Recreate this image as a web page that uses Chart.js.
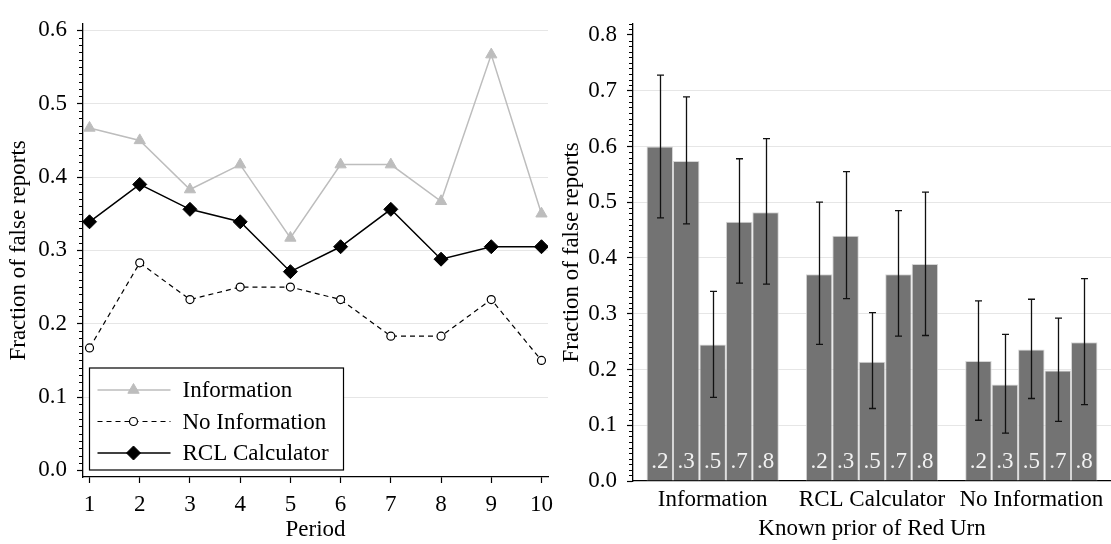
<!DOCTYPE html>
<html>
<head>
<meta charset="utf-8">
<script src="https://cdn.jsdelivr.net/npm/chart.js@4"></script>
<style>
  html, body { margin: 0; padding: 0; background: #fff; }
  #wrap { position: relative; width: 1111px; height: 544px; overflow: hidden; }
  #left { position: absolute; left: 0; top: 0; width: 556px; height: 544px; }
  #right { position: absolute; left: 555px; top: 0; width: 556px; height: 544px; }
</style>
</head>
<body>
<div id="wrap">
  <div id="left"><canvas id="lineChart"></canvas></div>
  <div id="right"><canvas id="barChart"></canvas></div>
</div>
<script>
// left panel: false reports by period
const periods = [1, 2, 3, 4, 5, 6, 7, 8, 9, 10];
const infoRate = [0.467, 0.450, 0.383, 0.417, 0.317, 0.417, 0.417, 0.367, 0.567, 0.350];
const noInfoRate = [0.167, 0.283, 0.233, 0.250, 0.250, 0.233, 0.183, 0.183, 0.233, 0.150];
const rclRate = [0.339, 0.390, 0.356, 0.339, 0.271, 0.305, 0.356, 0.288, 0.305, 0.305];
const leftTicks = [0, 0.1, 0.2, 0.3, 0.4, 0.5, 0.6];

// right panel: false reports by known prior, with confidence intervals
const treatments = ["Information", "RCL Calculator", "No Information"];
const priors = [".2", ".3", ".5", ".7", ".8"];
const mean20 = [0.600, 0.371, 0.215];
const mean30 = [0.574, 0.440, 0.173];
const mean50 = [0.245, 0.214, 0.236];
const mean70 = [0.465, 0.371, 0.198];
const mean80 = [0.482, 0.389, 0.249];
const lo20 = [0.472, 0.245, 0.109], hi20 = [0.728, 0.500, 0.323];
const lo30 = [0.461, 0.327, 0.086], hi30 = [0.689, 0.555, 0.263];
const lo50 = [0.150, 0.130, 0.148], hi50 = [0.340, 0.302, 0.326];
const lo70 = [0.355, 0.260, 0.107], hi70 = [0.578, 0.485, 0.292];
const lo80 = [0.353, 0.261, 0.137], hi80 = [0.614, 0.518, 0.363];
const rightTicks = [0, 0.1, 0.2, 0.3, 0.4, 0.5, 0.6, 0.7, 0.8];

const FONT = "'Liberation Serif', 'Times New Roman', serif";
const font23 = { family: FONT, size: 23 };

// short minor ticks every 0.01 on the y axis
const minorTicks = {
  id: "minorTicks",
  afterDraw(chart) {
    const s = chart.scales.y;
    const ctx = chart.ctx;
    ctx.save();
    ctx.strokeStyle = "#000";
    ctx.lineWidth = 1;
    for (let i = Math.ceil(s.min * 100); i <= Math.floor(s.max * 100); i++) {
      if (i % 10 === 0) continue;
      const y = Math.round(s.getPixelForValue(i / 100)) + 0.5;
      ctx.beginPath();
      ctx.moveTo(s.right - 4, y);
      ctx.lineTo(s.right, y);
      ctx.stroke();
    }
    ctx.restore();
  }
};

function gridColor(ctx) {
  const v = Math.round(ctx.tick.value * 10);
  return (v === 0 || v === 8) ? "rgba(0,0,0,0)" : "#e6e6e6";
}

// ---------- left: line chart ----------
const lineSets = [
  { label: "Information", data: periods.map((p, i) => ({ x: p, y: infoRate[i] })),
    borderColor: "#bdbdbd", backgroundColor: "#bdbdbd", borderWidth: 1.5,
    pointStyle: "triangle", pointRadius: 6.5, pointBorderWidth: 1, pointBorderColor: "#bdbdbd" },
  { label: "No Information", data: periods.map((p, i) => ({ x: p, y: noInfoRate[i] })),
    borderColor: "#000", backgroundColor: "#fff", borderWidth: 1.2, borderDash: [5, 4],
    pointStyle: "circle", pointRadius: 4, pointBorderWidth: 1.2, pointBorderColor: "#000" },
  { label: "RCL Calculator", data: periods.map((p, i) => ({ x: p, y: rclRate[i] })),
    borderColor: "#000", backgroundColor: "#000", borderWidth: 1.5,
    pointStyle: "rectRot", pointRadius: 7, pointBorderWidth: 1, pointBorderColor: "#000" }
];

const lineLegend = {
  id: "lineLegend",
  afterDraw(chart) {
    const ctx = chart.ctx;
    const a = chart.chartArea;
    const left = a.left + 6.5, bottom = a.bottom - 7, w = 254, h = 102;
    ctx.save();
    ctx.fillStyle = "#fff";
    ctx.fillRect(left, bottom - h, w, h);
    ctx.strokeStyle = "#000";
    ctx.lineWidth = 1.2;
    ctx.strokeRect(left, bottom - h, w, h);
    ctx.font = "23px " + FONT;
    ctx.textBaseline = "middle";
    chart.data.datasets.forEach((ds, i) => {
      const y = bottom - h + 22 + i * 31.5;
      ctx.strokeStyle = ds.borderColor;
      ctx.lineWidth = ds.borderWidth;
      ctx.setLineDash(ds.borderDash || []);
      ctx.beginPath();
      ctx.moveTo(left + 8, y);
      ctx.lineTo(left + 81, y);
      ctx.stroke();
      ctx.setLineDash([]);
      ctx.fillStyle = ds.backgroundColor;
      ctx.strokeStyle = ds.pointBorderColor;
      ctx.lineWidth = ds.pointBorderWidth;
      Chart.helpers.drawPoint(ctx, { pointStyle: ds.pointStyle, radius: ds.pointRadius, rotation: 0, borderWidth: ds.pointBorderWidth }, left + 44, y);
      ctx.fillStyle = "#000";
      ctx.fillText(ds.label, left + 93, y + 1);
    });
    ctx.restore();
  }
};

new Chart(document.getElementById("lineChart"), {
  type: "line",
  data: { datasets: lineSets },
  options: {
    responsive: true,
    maintainAspectRatio: false,
    animation: false,
    layout: { padding: { top: 12, right: 8, left: 0, bottom: 0 } },
    plugins: { legend: { display: false }, tooltip: { enabled: false } },
    scales: {
      x: {
        type: "linear", min: 0.87, max: 10.13,
        afterBuildTicks: s => { s.ticks = periods.map(v => ({ value: v })); },
        afterFit: s => { s.height = 67; s.paddingLeft = 0; s.paddingRight = 0; },
        ticks: { font: font23, color: "#000", padding: 8, callback: v => String(v) },
        grid: { drawOnChartArea: false, tickLength: 6, tickColor: "#000", tickWidth: 1.2 },
        border: { color: "#000", width: 1.3 },
        title: { display: true, text: "Period", font: font23, color: "#000", padding: { top: 0, bottom: 0 } }
      },
      y: {
        min: -0.009, max: 0.609,
        afterBuildTicks: s => { s.ticks = leftTicks.map(v => ({ value: v })); },
        afterFit: s => { s.width = 83; },
        ticks: { font: font23, color: "#000", padding: 10, callback: v => v.toFixed(1) },
        grid: { color: gridColor, tickColor: "#000", tickLength: 6, tickWidth: 1.2, lineWidth: 1 },
        border: { color: "#000", width: 1.3 },
        title: { display: true, text: "Fraction of false reports", font: font23, color: "#000", padding: { top: 5, bottom: 0 } }
      }
    }
  },
  plugins: [minorTicks, lineLegend]
});

// ---------- right: bar chart ----------
const means = [mean20, mean30, mean50, mean70, mean80];
const lows = [lo20, lo30, lo50, lo70, lo80];
const highs = [hi20, hi30, hi50, hi70, hi80];

const errorBars = {
  id: "errorBars",
  afterDatasetsDraw(chart) {
    const ctx = chart.ctx;
    const ys = chart.scales.y;
    ctx.save();
    ctx.strokeStyle = "#111";
    ctx.lineWidth = 1.3;
    chart.data.datasets.forEach((ds, di) => {
      const meta = chart.getDatasetMeta(di);
      meta.data.forEach((bar, i) => {
        const x = Math.round(bar.x) + 0.5;
        const yh = ys.getPixelForValue(highs[di][i]);
        const yl = ys.getPixelForValue(lows[di][i]);
        ctx.beginPath();
        ctx.moveTo(x, yh); ctx.lineTo(x, yl);
        ctx.moveTo(x - 3.5, yh); ctx.lineTo(x + 3.5, yh);
        ctx.moveTo(x - 3.5, yl); ctx.lineTo(x + 3.5, yl);
        ctx.stroke();
      });
    });
    // prior labels inside the bars
    ctx.fillStyle = "#f2f2f2";
    ctx.font = "23px " + FONT;
    ctx.textAlign = "center";
    ctx.textBaseline = "middle";
    chart.data.datasets.forEach((ds, di) => {
      chart.getDatasetMeta(di).data.forEach(bar => {
        ctx.fillText(priors[di], bar.x, ys.getPixelForValue(0) - 19);
      });
    });
    ctx.restore();
  }
};

new Chart(document.getElementById("barChart"), {
  type: "bar",
  data: {
    labels: treatments,
    datasets: priors.map((p, i) => ({
      label: p,
      data: means[i],
      backgroundColor: "#737373",
      borderColor: "#d6d6d6",
      borderWidth: 1,
      borderSkipped: "bottom",
      barPercentage: 1,
      categoryPercentage: 0.83
    }))
  },
  options: {
    responsive: true,
    maintainAspectRatio: false,
    animation: false,
    layout: { padding: { top: 15, right: 0, left: 0, bottom: 0 } },
    plugins: { legend: { display: false }, tooltip: { enabled: false } },
    scales: {
      x: {
        afterFit: s => { s.height = 63; },
        ticks: { font: font23, color: "#000", padding: -3 },
        grid: { display: false },
        border: { color: "#000", width: 1.3 },
        title: { display: true, text: "Known prior of Red Urn", font: font23, color: "#000", padding: { top: 0, bottom: 1 } }
      },
      y: {
        min: 0, max: 0.82,
        afterBuildTicks: s => { s.ticks = rightTicks.map(v => ({ value: v })); },
        afterFit: s => { s.width = 78; },
        ticks: { font: font23, color: "#000", padding: 10, callback: v => v.toFixed(1) },
        grid: { color: gridColor, tickColor: "#000", tickLength: 6, tickWidth: 1.2, lineWidth: 1 },
        border: { color: "#000", width: 1.3 },
        title: { display: true, text: "Fraction of false reports", font: font23, color: "#000", padding: { top: 3, bottom: 0 } }
      }
    }
  },
  plugins: [minorTicks, errorBars]
});
</script>
</body>
</html>
